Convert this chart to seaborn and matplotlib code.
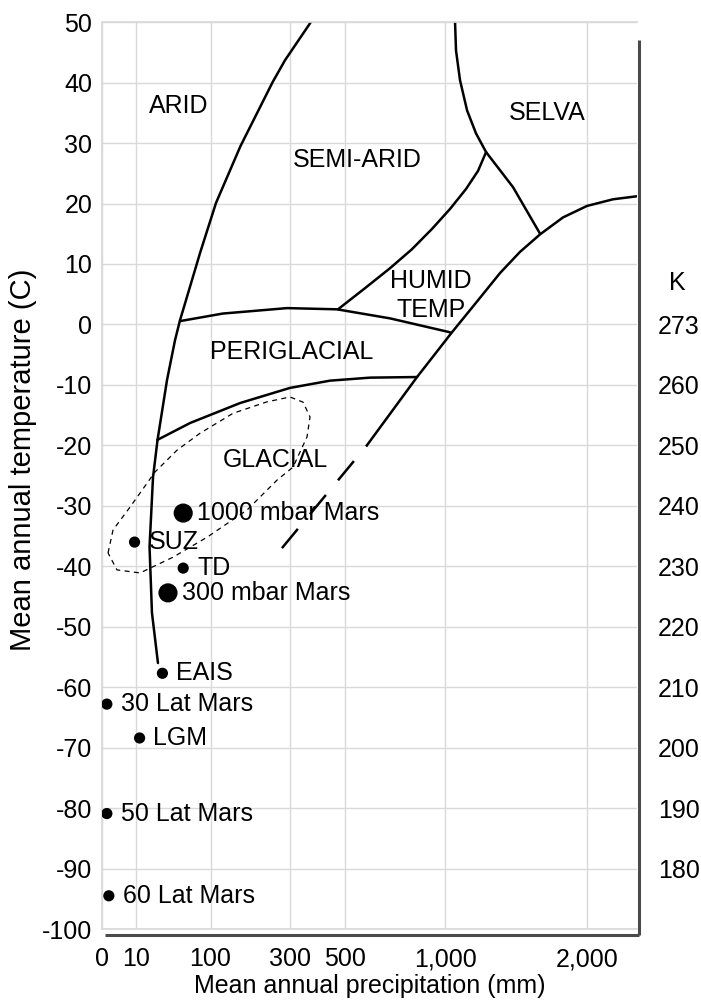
import numpy as np
import pandas as pd
import matplotlib
matplotlib.use('Agg')
import matplotlib.pyplot as plt
import matplotlib.transforms as mtransforms
import seaborn as sns

sns.set_theme(style='whitegrid')
plt.rcParams['font.family'] = ['Liberation Sans', 'DejaVu Sans']
plt.rcParams['axes.unicode_minus'] = False
plt.rcParams['text.color'] = 'black'
plt.rcParams['axes.labelcolor'] = 'black'
plt.rcParams['xtick.color'] = 'black'
plt.rcParams['ytick.color'] = 'black'

# axis ticks
x_ticks = [0, 10, 100, 300, 500, 1000, 2000]
x_labels = ['0', '10', '100', '300', '500', '1,000', '2,000']
y_ticks = list(range(-100, 51, 10))
k_ticks = [0, -10, -20, -30, -40, -50, -60, -70, -80, -90]
k_labels = ['273', '260', '250', '240', '230', '220', '210', '200', '190', '180']

# sites: precipitation (mm), temperature (C)
site_names = ['1000 mbar Mars', 'SUZ', 'TD', '300 mbar Mars', 'EAIS',
              '30 Lat Mars', 'LGM', '50 Lat Mars', '60 Lat Mars']
site_precip = [56, 9, 56, 37, 31, 0.2, 12, 0.2, 0.4]
site_temp = [-31.2, -36.0, -40.3, -44.4, -57.7, -62.8, -68.4, -80.9, -94.5]
site_kind = ['big', 'small', 'small', 'big', 'small', 'small', 'small', 'small', 'small']

# climate zone boundaries (precip mm, temp C)
arid_p = [374.6, 367.5, 284.5, 247.5, 162.9, 110.4, 81.6, 59.9, 51.7, 45.3, 35.9,
          26.2, 22.1, 19.2, 21.2, 26.6]
arid_t = [50.5, 49.8, 43.7, 40.1, 29.5, 20.1, 11.8, 4.0, 0.7, -2.6, -9.2,
          -19.1, -25.3, -36.8, -47.7, -56.0]

peri_top_p = [51.7, 124, 291, 469, 705, 1029]
peri_top_t = [0.55, 1.8, 2.7, 2.5, 1.0, -1.3]

glacial_top_p = [26, 66, 162, 300, 441.5, 610, 843]
glacial_top_t = [-19.1, -16.3, -13.0, -10.5, -9.3, -8.8, -8.7]

humid_p = [596, 843, 1041, 1201, 1345.6, 1484, 1630, 1805, 1998, 2218, 2431]
humid_t = [-20.0, -8.7, -1.27, 4.0, 8.5, 12.0, 14.9, 17.7, 19.6, 20.7, 21.2]

humid_dash_p = [275, 596]
humid_dash_t = [-37.0, -20.0]

semiarid_p = [473, 587.6, 704.6, 816.3, 925, 1028.7, 1125.5, 1201, 1253]
semiarid_t = [2.5, 6.0, 9.3, 12.45, 15.8, 19.1, 22.4, 25.4, 28.5]

selva_p = [1058, 1064.5, 1088.6, 1132, 1188, 1253, 1435, 1630]
selva_t = [50.5, 45.3, 40.4, 35.4, 31.6, 28.5, 22.7, 15.0]

ellipse_p = [0.31, 1.03, 6.7, 23.9, 47.8, 81.6, 145.8, 231.3, 300.2, 343.2, 367.5,
             357, 309.9, 260.1, 178.6, 93.7, 42.8, 12.3, 1.91, 0.31]
ellipse_t = [-37.8, -34.0, -30.2, -24.4, -20.8, -18.0, -14.7, -12.8, -12.0, -12.85, -15.3,
             -18.6, -23.6, -25.75, -30.7, -35.2, -38.5, -41.1, -40.6, -37.8]

# zone labels
zone_names = ['ARID', 'SEMI-ARID', 'SELVA', 'HUMID\nTEMP', 'PERIGLACIAL', 'GLACIAL']
zone_p = [50, 552, 1682, 919, 307, 254]
zone_t = [36.1, 27.2, 34.9, 4.8, -4.6, -22.4]

sites = pd.DataFrame({'precip': site_precip, 'temp': site_temp,
                      'kind': site_kind, 'name': site_names})

fig, ax = plt.subplots(figsize=(7.01, 10.06), dpi=100)
fig.subplots_adjust(left=0.1455, right=0.9087, top=0.978, bottom=0.0765)

ax.set_xscale('function', functions=(lambda v: np.sqrt(np.clip(v, 0, None)),
                                     lambda v: np.square(v)))
ax.set_xlim(0, 2431)
ax.set_ylim(-100, 50)

curve_kw = dict(color='black', linewidth=1.8, sort=False, estimator=None, ax=ax)
for px, ty in [(arid_p, arid_t), (peri_top_p, peri_top_t), (glacial_top_p, glacial_top_t),
               (humid_p, humid_t), (semiarid_p, semiarid_t), (selva_p, selva_t)]:
    sns.lineplot(x=px, y=ty, **curve_kw)

sns.lineplot(x=humid_dash_p, y=humid_dash_t, color='black', linewidth=1.8, sort=False,
             estimator=None, ax=ax, linestyle=(0, (10, 7.6)))
sns.lineplot(x=ellipse_p, y=ellipse_t, color='black', linewidth=0.9, sort=False,
             estimator=None, ax=ax, linestyle=(0, (4, 3.5)))

sns.scatterplot(data=sites, x='precip', y='temp', size='kind',
                sizes={'big': 190, 'small': 65}, color='black', edgecolor='none',
                legend=False, ax=ax, zorder=5)
for _, r in sites.iterrows():
    ax.annotate(r['name'], (r['precip'], r['temp']), xytext=(10, 0),
                textcoords='offset points', va='center', ha='left', fontsize=18)

for name, px, ty in zip(zone_names, zone_p, zone_t):
    ax.text(px, ty, name, ha='center', va='center', fontsize=18, linespacing=1.3)

ax.set_xticks(x_ticks)
ax.set_xticklabels(x_labels)
ax.set_yticks(y_ticks)
ax.tick_params(axis='both', length=0, labelsize=18)
ax.tick_params(axis='x', pad=13)
ax.tick_params(axis='y', pad=7)
ax.grid(True, color='#d9d9d9', linewidth=1.0)
ax.set_xlabel('Mean annual precipitation (mm)', fontsize=18, labelpad=2)
ax.set_ylabel('Mean annual temperature (C)', fontsize=21)
ax.yaxis.set_label_coords(-0.122, 0.517)
for side in ['left', 'top', 'bottom']:
    ax.spines[side].set_color('#d9d9d9')
ax.spines['right'].set_visible(False)

# shadowed frame on right and bottom
ax.plot([1.003, 1.003], [-0.007, 0.98], transform=ax.transAxes, color='#4a4a4a',
        linewidth=2.2, clip_on=False, solid_capstyle='butt')
ax.plot([0.006, 1.003], [-0.007, -0.007], transform=ax.transAxes, color='#4a4a4a',
        linewidth=2.2, clip_on=False, solid_capstyle='butt')

# Kelvin scale on right
ax2 = ax.twinx()
ax2.set_ylim(-100, 50)
ax2.set_yticks(k_ticks)
ax2.set_yticklabels(k_labels)
ax2.grid(False)
ax2.tick_params(axis='y', length=0, pad=15, labelsize=18)
for s in ax2.spines.values():
    s.set_visible(False)
trans = mtransforms.blended_transform_factory(ax.transAxes, ax.transData)
ax2.text(1.075, 6.8, 'K', transform=trans, ha='center', va='center', fontsize=18)

fig.savefig('out.png', dpi=100, facecolor='white')
